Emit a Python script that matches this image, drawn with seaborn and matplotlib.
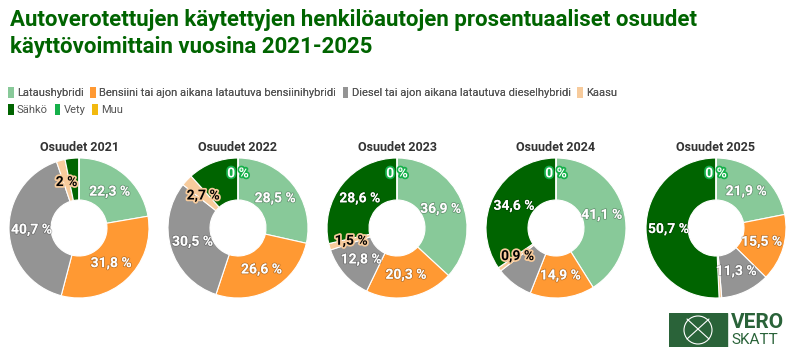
import numpy as np
import pandas as pd
import seaborn as sns
import matplotlib
matplotlib.use("Agg")
import matplotlib.pyplot as plt
import matplotlib.patheffects as pe
from matplotlib.patches import Patch, Rectangle, Circle

years = [2021, 2022, 2023, 2024, 2025]
categories = ["Lataushybridi",
              "Bensiini tai ajon aikana latautuva bensiinihybridi",
              "Diesel tai ajon aikana latautuva dieselhybridi",
              "Kaasu", "Sähkö", "Vety", "Muu"]
lataushybridi = [22.3, 28.5, 36.9, 41.1, 21.9]
bensiini = [31.8, 26.6, 20.3, 14.9, 15.5]
diesel = [40.7, 30.5, 12.8, 8.5, 11.3]
kaasu = [2.0, 2.7, 1.5, 0.9, 0.6]
sahko = [3.2, 11.7, 28.6, 34.6, 50.7]
vety = [np.nan, 0, 0, 0, 0]
muu = [np.nan, np.nan, np.nan, np.nan, np.nan]
# slices whose value label is not shown in the original
hidden = {2021: ["Sähkö"], 2022: ["Sähkö"],
          2024: ["Diesel tai ajon aikana latautuva dieselhybridi"], 2025: ["Kaasu"]}
colors = ["#88c999", "#ff9933", "#949494", "#f7cb9c", "#006400", "#15b04a", "#f2b90f"]

df = pd.DataFrame({"Vuosi": years, categories[0]: lataushybridi, categories[1]: bensiini,
                   categories[2]: diesel, categories[3]: kaasu, categories[4]: sahko,
                   categories[5]: vety, categories[6]: muu})
df = df.melt("Vuosi", var_name="Käyttövoima", value_name="Osuus")

sns.set_theme(style="white")
plt.rcParams["font.family"] = ["Liberation Sans Narrow", "Roboto", "DejaVu Sans"]
palette = dict(zip(categories, sns.color_palette(colors)))

fig = plt.figure(figsize=(7.94, 3.61), dpi=100)
W, H = 794, 361

fig.text(10 / W, 1 - 9 / H, "Autoverotettujen käytettyjen henkilöautojen prosentuaaliset osuudet\n"
         "käyttövoimittain vuosina 2021-2025", ha="left", va="top", fontsize=16,
         fontweight="bold", color="#006400", linespacing=1.3)

handles = [Patch(facecolor=palette[c], edgecolor="none", label=c) for c in categories]
leg1 = fig.legend(handles=handles[:4], loc="upper left", bbox_to_anchor=(8 / W, 1 - 87 / H),
                  ncol=4, frameon=False, fontsize=8, handlelength=0.5, handleheight=1.2,
                  handletextpad=0.3, columnspacing=0.6, borderpad=0, borderaxespad=0,
                  labelcolor="#555555")
leg2 = fig.legend(handles=handles[4:], loc="upper left", bbox_to_anchor=(8 / W, 1 - 104 / H),
                  ncol=3, frameon=False, fontsize=8, handlelength=0.5, handleheight=1.2,
                  handletextpad=0.3, columnspacing=0.6, borderpad=0, borderaxespad=0,
                  labelcolor="#555555")
fig.add_artist(leg1)

centers = [79, 238, 397, 556, 716]
R = 70
for year, cx in zip(years, centers):
    ax = fig.add_axes([(cx - R) / W, (H - 228 - R) / H, 2 * R / W, 2 * R / H])
    sub = df[df["Vuosi"] == year]
    vals = sub["Osuus"].fillna(0).to_numpy()
    wedges, _ = ax.pie(vals, colors=[palette[c] for c in sub["Käyttövoima"]],
                       startangle=90, counterclock=False, normalize=True,
                       wedgeprops=dict(width=0.6, edgecolor="white", linewidth=0.8))
    ax.set_xlim(-1, 1)
    ax.set_ylim(-1, 1)
    ax.set_title(f"Osuudet {year}", fontsize=9, fontweight="bold", color="#333333", pad=5)
    for w, cat, v in zip(wedges, sub["Käyttövoima"], sub["Osuus"]):
        if np.isnan(v) or cat in hidden.get(year, []):
            continue
        ang = np.deg2rad((w.theta1 + w.theta2) / 2)
        r = 0.78 if v == 0 else 0.68
        txt = f"{v:.1f}".replace(".", ",").replace(",0", "") + " %"
        if cat == "Kaasu":
            col, eff = "black", [pe.withStroke(linewidth=2.5, foreground=palette[cat])]
        elif cat == "Vety":
            col, eff = "white", [pe.withStroke(linewidth=2.5, foreground=palette[cat])]
        else:
            col, eff = "white", [pe.withStroke(linewidth=1.2, foreground=(0, 0, 0, 0.25))]
        ax.text(r * np.cos(ang), r * np.sin(ang), txt, ha="center", va="center",
                fontsize=10, fontweight="bold", color=col, path_effects=eff)

# logo
lax = fig.add_axes([669 / W, (H - 347) / H, 116 / W, 34 / H])
lax.set_xlim(0, 116)
lax.set_ylim(0, 34)
lax.axis("off")
lax.add_patch(Rectangle((0, 0), 58, 34, color="#2a6339"))
lax.add_patch(Circle((29, 17), 14, fill=False, edgecolor="white", linewidth=0.8))
lax.plot([18, 40], [8, 28], color="white", linewidth=0.8)
lax.plot([18, 40], [28, 8], color="white", linewidth=0.8)
lax.text(62, 24, "VERO", fontsize=15, fontweight="bold", color="#2a6339", va="center", ha="left")
lax.text(62, 7, "SKATT", fontsize=11, color="#2a6339", va="center", ha="left")

fig.savefig("out.png", dpi=100)
